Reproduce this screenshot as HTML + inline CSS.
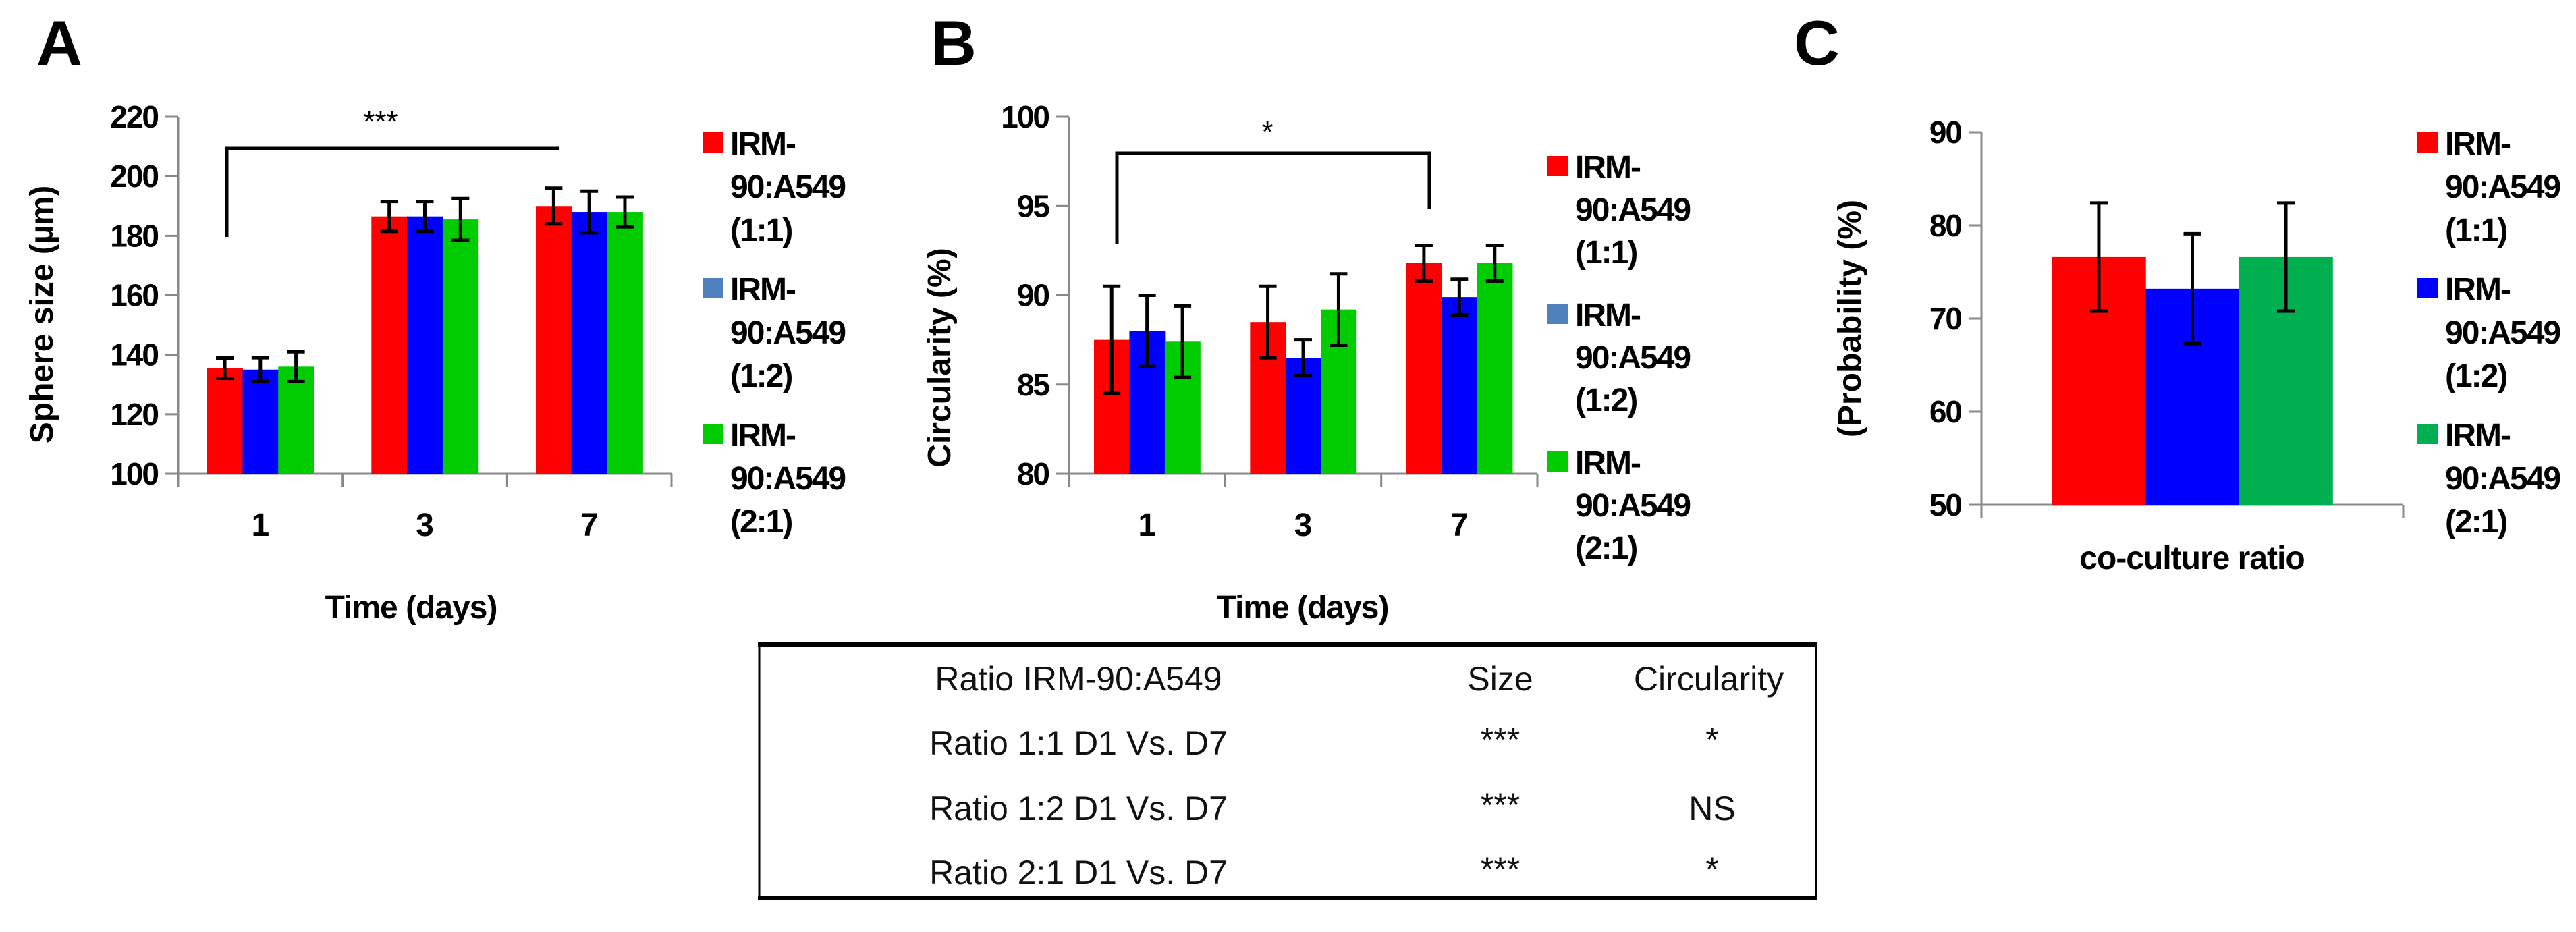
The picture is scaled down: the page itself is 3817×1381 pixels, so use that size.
<!DOCTYPE html>
<html><head><meta charset="utf-8"><style>
html,body{margin:0;padding:0;background:#fff;}
svg{display:block;font-family:"Liberation Sans",sans-serif;}
</style></head><body>
<svg id="fig" width="3817" height="1381" viewBox="0 0 3817 1381" xmlns="http://www.w3.org/2000/svg">
<rect width="3817" height="1381" fill="#fff"/>
<g id="root"></g>
<g>
  <rect x="1125" y="955" width="1566" height="376" fill="none" stroke="#000" stroke-width="3"/>
  <line x1="1123" y1="955" x2="2693" y2="955" stroke="#000" stroke-width="6"/>
  <line x1="1123" y1="1331" x2="2693" y2="1331" stroke="#000" stroke-width="6"/>
  <g font-size="50" text-anchor="middle" fill="#111">
    <text x="1598" y="1023">Ratio IRM-90:A549</text>
    <text x="2223" y="1023">Size</text>
    <text x="2532" y="1023">Circularity</text>
    <text x="1598" y="1118">Ratio 1:1 D1 Vs. D7</text>
    <text x="2223" y="1113">***</text>
    <text x="2537" y="1113">*</text>
    <text x="1598" y="1215">Ratio 1:2 D1 Vs. D7</text>
    <text x="2223" y="1210">***</text>
    <text x="2537" y="1215">NS</text>
    <text x="1598" y="1310">Ratio 2:1 D1 Vs. D7</text>
    <text x="2223" y="1305">***</text>
    <text x="2537" y="1305">*</text>
  </g>
</g>
</svg>
<script>
// ---- Panel A data ----
const aCategories = ['1','3','7'];
const aTicks = [100,120,140,160,180,200,220];
const aSeries11 = [135.5,186.5,190];
const aSeries12 = [135,186.5,188];
const aSeries21 = [136,185.5,188];
const aErr11 = [3.4,5,6];
const aErr12 = [4,5,7];
const aErr21 = [5,7,5];
// ---- Panel B data ----
const bCategories = ['1','3','7'];
const bTicks = [80,85,90,95,100];
const bSeries11 = [87.5,88.5,91.8];
const bSeries12 = [88,86.5,89.9];
const bSeries21 = [87.4,89.2,91.8];
const bErr11 = [3,2,1];
const bErr12 = [2,1,1];
const bErr21 = [2,2,1];
// ---- Panel C data ----
const cCategories = ['co-culture ratio'];
const cTicks = [50,60,70,80,90];
const cSeries11 = [76.6];
const cSeries12 = [73.2];
const cSeries21 = [76.6];
const cErr11 = [5.8];
const cErr12 = [5.9];
const cErr21 = [5.8];
const legendLabels = ['(1:1)','(1:2)','(2:1)'];

const NS='http://www.w3.org/2000/svg';
const root=document.getElementById('root');
function mk(tag,attrs,parent,text){const e=document.createElementNS(NS,tag);for(const k in attrs)e.setAttribute(k,attrs[k]);if(text!==undefined)e.textContent=text;(parent||root).appendChild(e);return e;}

function panel(cfg){
  const g=mk('g',{});
  
  
  const {x0,x1,yTop,yBot,min,max}=cfg;
  const y=v=>yBot-(v-min)/(max-min)*(yBot-yTop);
  const n=cfg.cats.length, gw=(x1-x0)/n;
  const L=mk('text',{x:cfg.letterX,y:96,'font-size':94,'font-weight':'bold'},g,cfg.letter);
  
  
  mk('line',{x1:x0,y1:yTop,x2:x0,y2:yBot,stroke:'#888','stroke-width':3},g);
  mk('line',{x1:x0-19,y1:yBot,x2:x1,y2:yBot,stroke:'#888','stroke-width':3},g);
  cfg.ticks.forEach(t=>{
    mk('line',{x1:x0-19,y1:y(t),x2:x0,y2:y(t),stroke:'#888','stroke-width':3},g);
    const tl=mk('text',{x:x0-30,y:y(t)+16,'font-size':46,'font-weight':'bold','text-anchor':'end','letter-spacing':-2},g,String(t));
    
    
  });
  for(let i=0;i<=n;i++) mk('line',{x1:x0+gw*i,y1:yBot,x2:x0+gw*i,y2:yBot+19,stroke:'#888','stroke-width':3},g);
  const series=[cfg.s1,cfg.s2,cfg.s3], errs=[cfg.e1,cfg.e2,cfg.e3];
  const bw=gw*cfg.barFrac/3;
  cfg.cats.forEach((c,i)=>{
    const cx=x0+gw*(i+0.5);
    series.forEach((s,j)=>{
      const bx=cx-1.5*bw+j*bw;
      const r=mk('rect',{x:bx,y:y(s[i]),width:bw+0.5,height:yBot-y(s[i]),fill:cfg.colors[j]},g);
      
      
      const ex=bx+bw/2, hi=y(s[i]+errs[j][i]), lo=y(s[i]-errs[j][i]);
      const eb=mk('path',{d:`M${ex},${hi}V${lo}M${ex-13},${hi}H${ex+13}M${ex-13},${lo}H${ex+13}`,stroke:'#000','stroke-width':5,fill:'none'},g);
      
      
    });
    if(cfg.showCatLabels){
      const cl=mk('text',{x:cx,y:yBot+92,'font-size':48,'font-weight':'bold','text-anchor':'middle'},g,c);
      
      
    }
  });
  const xt=mk('text',{x:cfg.xTitleX,y:cfg.xTitleY,'font-size':48,'font-weight':'bold','text-anchor':'middle','letter-spacing':-1},g,cfg.xTitle);
  
  
  const yt=mk('text',{x:0,y:0,'font-size':48,'font-weight':'bold','text-anchor':'middle','transform':`translate(${cfg.yTitleX},${cfg.yTitleY}) rotate(-90)`},g,cfg.yTitle);
  
  
  legendLabels.forEach((lab,j)=>{
    const ly=cfg.legY+j*cfg.legStep;
    const lg=mk('g',{},g);
    
    
    mk('rect',{x:cfg.legX,y:ly-16,width:30,height:30,fill:cfg.legColors[j]},lg);
    ['IRM-','90:A549',lab].forEach((t,k)=>{
      mk('text',{x:cfg.legX+41,y:ly+17+k*cfg.legLine,'font-size':48,'font-weight':'bold','letter-spacing':-2},lg,t);
    });
  });
  if(cfg.bracket){
    const b=cfg.bracket;
    let d=`M${b.x1},${b.y1}V${b.top}H${b.x2}`; if(b.y2) d+=`V${b.y2}`;
    const br=mk('path',{d,stroke:'#000','stroke-width':5,fill:'none'},g);
    
    
    const st=mk('text',{x:b.sx,y:b.sy+22,'font-size':44,'text-anchor':'middle'},g,b.stars);
    
    
  }
}

panel({name:'panel-a-sphere-size',letter:'A',letterX:54,x0:264,x1:995,yTop:173,yBot:702,min:100,max:220,
  cats:aCategories,ticks:aTicks,s1:aSeries11,s2:aSeries12,s3:aSeries21,e1:aErr11,e2:aErr12,e3:aErr21,barFrac:0.65,
  colors:['#ff0000','#0000ff','#00cc00'],legColors:['#ff0000','#4f81bd','#00cc00'],showCatLabels:true,
  xTitle:'Time (days)',xTitleX:609,xTitleY:916,yTitle:'Sphere size (\u00b5m)',yTitleX:78,yTitleY:466,
  legX:1041,legY:212,legStep:216,legLine:64,
  bracket:{x1:336,y1:351,top:220,x2:829,sx:564,sy:173,stars:'***'}});

panel({name:'panel-b-circularity',letter:'B',letterX:1379,x0:1584,x1:2278,yTop:173,yBot:702,min:80,max:100,
  cats:bCategories,ticks:bTicks,s1:bSeries11,s2:bSeries12,s3:bSeries21,e1:bErr11,e2:bErr12,e3:bErr21,barFrac:0.68,
  colors:['#ff0000','#0000ff','#00cc00'],legColors:['#ff0000','#4f81bd','#00cc00'],showCatLabels:true,
  xTitle:'Time (days)',xTitleX:1930,xTitleY:916,yTitle:'Circularity (%)',yTitleX:1408,yTitleY:530,
  legX:2293,legY:247,legStep:219,legLine:63,
  bracket:{x1:1655,y1:362,top:227,x2:2118,y2:310,sx:1878,sy:188,stars:'*'}});

panel({name:'panel-c-probability',letter:'C',letterX:2658,x0:2936,x1:3561,yTop:196,yBot:748,min:50,max:90,
  cats:cCategories,ticks:cTicks,s1:cSeries11,s2:cSeries12,s3:cSeries21,e1:cErr11,e2:cErr12,e3:cErr21,barFrac:0.665,
  colors:['#ff0000','#0000ff','#00b050'],legColors:['#ff0000','#0000ff','#00b050'],showCatLabels:false,
  xTitle:'co-culture ratio',xTitleX:3248,xTitleY:843,yTitle:'(Probability (%)',yTitleX:2757,yTitleY:472,
  legX:3582,legY:212,legStep:216,legLine:64});
</script>
</body></html>
